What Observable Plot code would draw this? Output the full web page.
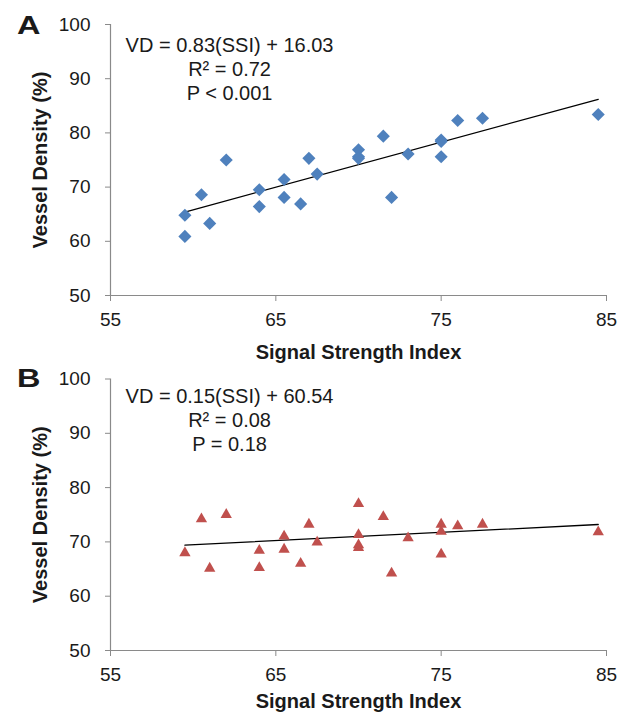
<!DOCTYPE html>
<html>
<head>
<meta charset="utf-8">
<script src="https://cdn.jsdelivr.net/npm/d3@7"></script>
<script src="https://cdn.jsdelivr.net/npm/@observablehq/plot@0.6"></script>
<style>
  html, body { margin: 0; padding: 0; background: #ffffff; }
  #chart { width: 620px; }
  #chart svg { display: block; }
</style>
</head>
<body>
<div id="chart"></div>
<script>
// ---- Data ----
const xTicks = [55, 65, 75, 85];
const yTicks = [50, 60, 70, 80, 90, 100];
const xTitle = "Signal Strength Index";
const yTitle = "Vessel Density (%)";

// Panel A
const ssiA = [59.5, 59.5, 60.5, 61, 62, 64, 64, 65.5, 65.5, 66.5, 67, 67.5, 70, 70, 70, 71.5, 72, 73, 75, 75, 75, 76, 77.5, 84.5];
const vdA  = [64.8, 60.9, 68.6, 63.3, 75.0, 69.5, 66.4, 71.4, 68.1, 66.9, 75.3, 72.4, 76.9, 75.6, 75.3, 79.4, 68.1, 76.1, 78.7, 78.4, 75.6, 82.3, 82.7, 83.4];
const trendSsiA = [59.5, 84.5];
const trendVdA  = [65.4, 86.2];
const eqA = ["VD = 0.83(SSI) + 16.03", "R\u00B2 = 0.72", "P < 0.001"];

// Panel B
const ssiB = [59.5, 60.5, 61, 62, 64, 64, 65.5, 65.5, 66.5, 67, 67.5, 70, 70, 70, 70, 71.5, 72, 73, 75, 75, 75, 76, 77.5, 84.5];
const vdB  = [68.25, 74.5, 65.4, 75.3, 68.7, 65.5, 71.3, 68.9, 66.3, 73.5, 70.2, 77.3, 71.6, 69.7, 69.2, 74.9, 64.5, 71.0, 73.5, 72.2, 68.0, 73.2, 73.5, 72.1];
const trendSsiB = [59.5, 84.5];
const trendVdB  = [69.4, 73.2];
const eqB = ["VD = 0.15(SSI) + 60.54", "R\u00B2 = 0.08", "P = 0.18"];

// ---- Drawing ----
const FONT = "Arial, 'Liberation Sans', Helvetica, sans-serif";
const AXIS = "#8a8a8a";
const INK = "#1a1a1a";

function panel(o) {
  const pts = o.xs.map((x, i) => ({x, y: o.ys[i]}));
  const trend = o.tx.map((x, i) => ({x, y: o.ty[i]}));
  const svg = Plot.plot({
    width: 620,
    height: o.height,
    marginLeft: 110,
    marginRight: 14,
    marginTop: o.marginTop,
    marginBottom: o.height - o.marginTop - o.plotH,
    style: {fontFamily: FONT, fontSize: "19px", color: INK, background: "#ffffff", overflow: "visible"},
    x: {domain: [55, 85]},
    y: {domain: [50, 100]},
    marks: [
      Plot.axisX({ticks: xTicks, tickSize: 6, tickPadding: 11, stroke: AXIS, fill: INK, label: null}),
      Plot.axisY({ticks: yTicks, tickSize: 5, tickPadding: 15, stroke: AXIS, fill: INK, label: null}),
      Plot.ruleX([55], {stroke: AXIS, strokeWidth: 1.2}),
      Plot.ruleY([50], {stroke: AXIS, strokeWidth: 1.2}),
      Plot.text([xTitle], {frameAnchor: "bottom", dy: o.xTitleDy, lineAnchor: "bottom", textAnchor: "middle",
        fontWeight: "bold", fontSize: 20, fill: INK}),
      Plot.text([yTitle], {frameAnchor: "left", dx: -78, rotate: -90, lineAnchor: "top", textAnchor: "middle",
        fontWeight: "bold", fontSize: 20, fill: INK}),
      Plot.text([o.eq.join("\n")], {x: 62.2, y: o.eqY, textAnchor: "middle", lineAnchor: "top",
        lineHeight: 1.2, fontSize: 20, fill: INK}),
      Plot.line(trend, {x: "x", y: "y", stroke: "#000000", strokeWidth: 1.3}),
      Plot.dot(pts, {x: "x", y: "y", symbol: o.symbol, r: o.r, fill: o.color, stroke: "none", dy: o.dotDy})
    ]
  });
  d3.select(svg).append("text")
    .text(o.letter)
    .attr("text-anchor", "start")
    .attr("transform", `translate(17,${o.letterBase}) scale(1.3,1)`)
    .attr("font-family", FONT)
    .attr("font-weight", "bold")
    .attr("font-size", 25)
    .attr("fill", INK);
  return svg;
}

const root = document.getElementById("chart");
root.appendChild(panel({
  letter: "A", letterBase: 34,
  xs: ssiA, ys: vdA, tx: trendSsiA, ty: trendVdA, eq: eqA, eqY: 98,
  symbol: "diamond2", r: 5.9, color: "#4f81bd", dotDy: 0,
  height: 360, marginTop: 24, plotH: 271, xTitleDy: 63
}));
root.appendChild(panel({
  letter: "B", letterBase: 27,
  xs: ssiB, ys: vdB, tx: trendSsiB, ty: trendVdB, eq: eqB, eqY: 98.8,
  symbol: "triangle", r: 4.2, color: "#c0504d", dotDy: 1.5,
  height: 355, marginTop: 18.5, plotH: 271.5, xTitleDy: 57
}));
</script>
</body>
</html>
